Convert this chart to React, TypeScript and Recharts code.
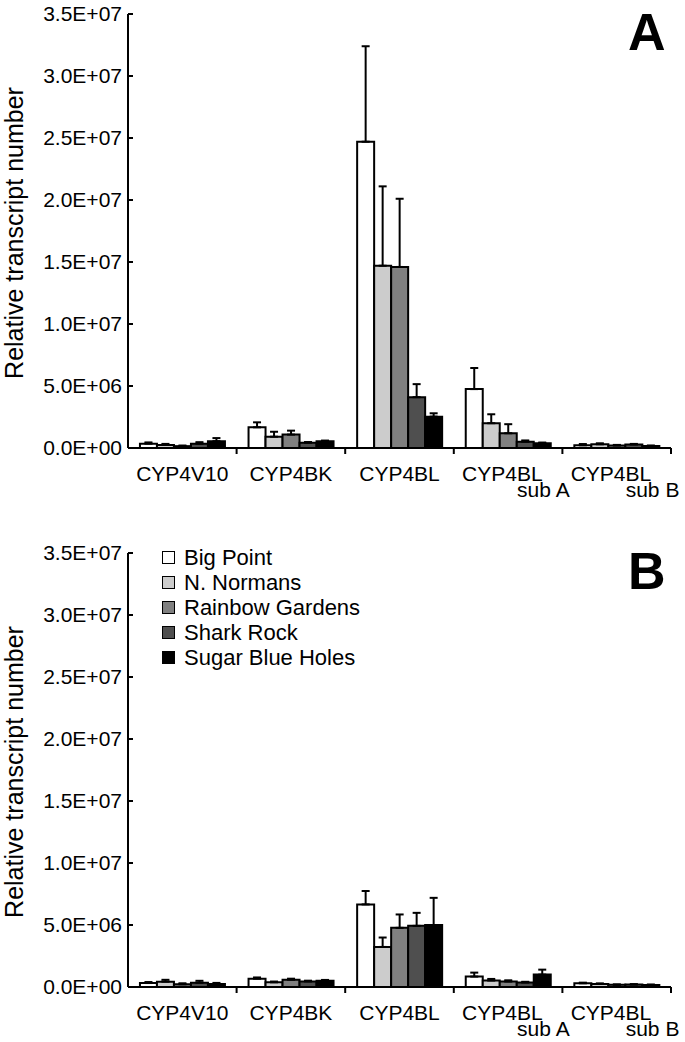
import React from 'react';
import { BarChart, Bar, XAxis, YAxis, ErrorBar, Legend, Customized } from 'recharts';

// genes on the x axis (main label + subscript line)
const GENES = ['CYP4V10', 'CYP4BK', 'CYP4BL', 'CYP4BL sub A', 'CYP4BL sub B'];
const GENE_NAMES = ['CYP4V10', 'CYP4BK', 'CYP4BL', 'CYP4BL', 'CYP4BL'];
const GENE_SUBS = ['', '', '', 'sub A', 'sub B'];

const SITES = ['Big Point', 'N. Normans', 'Rainbow Gardens', 'Shark Rock', 'Sugar Blue Holes'];
const SITE_KEYS = ['bp', 'nn', 'rg', 'sr', 'sbh'];
const SITE_COLORS = ['#ffffff', '#cccccc', '#808080', '#4f4f4f', '#000000'];

const Y_TICKS = [0, 5e6, 1e7, 1.5e7, 2e7, 2.5e7, 3e7, 3.5e7];

// panel A, millions of transcripts, one array per site across GENES
const A_BP = [0.35, 1.67, 24.7, 4.75, 0.22];
const A_NN = [0.25, 0.91, 14.7, 2.0, 0.3];
const A_RG = [0.15, 1.08, 14.6, 1.19, 0.2];
const A_SR = [0.35, 0.43, 4.1, 0.51, 0.28];
const A_SBH = [0.55, 0.54, 2.53, 0.38, 0.17];
const A_BP_ERR = [0.1, 0.4, 7.7, 1.7, 0.1];
const A_NN_ERR = [0.08, 0.4, 6.4, 0.72, 0.08];
const A_RG_ERR = [0.05, 0.32, 5.5, 0.73, 0.05];
const A_SR_ERR = [0.12, 0.05, 1.05, 0.1, 0.05];
const A_SBH_ERR = [0.25, 0.06, 0.27, 0.06, 0.03];

// panel B
const B_BP = [0.32, 0.67, 6.66, 0.84, 0.3];
const B_NN = [0.43, 0.38, 3.23, 0.52, 0.25];
const B_RG = [0.22, 0.59, 4.77, 0.44, 0.18];
const B_SR = [0.35, 0.45, 4.93, 0.36, 0.2];
const B_SBH = [0.25, 0.5, 4.99, 1.0, 0.17];
const B_BP_ERR = [0.08, 0.1, 1.08, 0.32, 0.05];
const B_NN_ERR = [0.15, 0.06, 0.76, 0.13, 0.04];
const B_RG_ERR = [0.08, 0.08, 1.08, 0.1, 0.03];
const B_SR_ERR = [0.15, 0.06, 1.05, 0.06, 0.03];
const B_SBH_ERR = [0.08, 0.07, 2.2, 0.4, 0.03];

const FONT = '"Liberation Sans", Arial, sans-serif';
const W = 685;
const PLOT_LEFT = 128;
const PLOT_RIGHT = 14;
const ZERO_Y = 448;
const STEP = (W - PLOT_LEFT - PLOT_RIGHT) / GENES.length;

function buildRows(values: number[][], errors: number[][]) {
  return GENES.map((gene, gi) => {
    const row: any = { gene };
    SITE_KEYS.forEach((k, si) => {
      row[k] = values[si][gi] * 1e6;
      row[k + 'Err'] = [0, errors[si][gi] * 1e6]; // upper whisker only
    });
    return row;
  });
}

const dataA = buildRows([A_BP, A_NN, A_RG, A_SR, A_SBH], [A_BP_ERR, A_NN_ERR, A_RG_ERR, A_SR_ERR, A_SBH_ERR]);
const dataB = buildRows([B_BP, B_NN, B_RG, B_SR, B_SBH], [B_BP_ERR, B_NN_ERR, B_RG_ERR, B_SR_ERR, B_SBH_ERR]);

const sci = (v: number) => {
  if (v === 0) return '0.0E+00';
  const e = Math.floor(Math.log10(v));
  const m = v / Math.pow(10, e);
  return `${m.toFixed(1)}E+${String(e).padStart(2, '0')}`;
};

const ValueTick = (props: any) => {
  const { x, y, payload } = props;
  return (
    <g>
      <line x1={x} x2={x + 5} y1={y} y2={y} stroke="#000" strokeWidth={2} />
      <text x={x - 6} y={y} dy="0.355em" textAnchor="end" fontSize={21} fontFamily={FONT} fill="#000">
        {sci(payload.value)}
      </text>
    </g>
  );
};

const GeneTick = (props: any) => {
  const { x, y, payload } = props;
  const i = GENES.indexOf(payload.value);
  const sub = GENE_SUBS[i];
  return (
    <g>
      <line x1={x + STEP / 2} x2={x + STEP / 2} y1={y} y2={y + 6} stroke="#000" strokeWidth={2} />
      {sub ? (
        <>
          <text x={x - 46} y={y + 33} fontSize={21} fontFamily={FONT} fill="#000">{GENE_NAMES[i]}</text>
          <text x={x + 9} y={y + 49} fontSize={21} fontFamily={FONT} fill="#000">{sub}</text>
        </>
      ) : (
        <text x={x} y={y + 33} textAnchor="middle" fontSize={21} fontFamily={FONT} fill="#000">{GENE_NAMES[i]}</text>
      )}
    </g>
  );
};

const YTitle = (props: any) => {
  const vb = props.viewBox || { y: 14, height: 434 };
  const cy = vb.y + vb.height / 2 + 2;
  return (
    <text transform={`translate(23, ${cy}) rotate(-90)`} textAnchor="middle" fontSize={25} fontFamily={FONT} fill="#000">
      Relative transcript number
    </text>
  );
};

const SiteLegend = () => (
  <div style={{ fontFamily: FONT, fontSize: 22, color: '#000' }}>
    {SITES.map((s, i) => (
      <div key={s} style={{ display: 'flex', alignItems: 'center', height: 25 }}>
        <span style={{ display: 'inline-block', width: 11, height: 11, border: '1.5px solid #000', background: SITE_COLORS[i], marginRight: 9 }} />
        <span>{s}</span>
      </div>
    ))}
  </div>
);

function Panel({ letter, data, height, legend }: { letter: string; data: any[]; height: number; legend?: boolean }) {
  return (
    <BarChart
      width={W}
      height={height}
      data={data}
      margin={{ top: 14, right: PLOT_RIGHT, left: 0, bottom: 0 }}
      barCategoryGap="11%"
      barGap={0}
    >
      <XAxis
        dataKey="gene"
        height={height - ZERO_Y}
        interval={0}
        tickSize={0}
        tickMargin={0}
        tickLine={false}
        axisLine={{ stroke: '#000', strokeWidth: 2 }}
        tick={<GeneTick />}
      />
      <YAxis
        width={PLOT_LEFT}
        domain={[0, 3.5e7]}
        ticks={Y_TICKS}
        interval={0}
        tickSize={0}
        tickMargin={0}
        tickLine={false}
        axisLine={{ stroke: '#000', strokeWidth: 2 }}
        tick={<ValueTick />}
        label={{ content: YTitle }}
      />
      {legend && (
        <Legend
          layout="vertical"
          align="center"
          verticalAlign="middle"
          content={<SiteLegend />}
          wrapperStyle={{ left: 162, top: 6, width: 280 }}
        />
      )}
      {SITE_KEYS.map((k, i) => (
        <Bar key={k} dataKey={k} name={SITES[i]} fill={SITE_COLORS[i]} stroke="#000" strokeWidth={2} isAnimationActive={false}>
          <ErrorBar dataKey={k + 'Err'} width={4} stroke="#000" strokeWidth={2} direction="y" />
        </Bar>
      ))}
      <Customized
        component={() => (
          <text x={628} y={50} fontSize={52} fontWeight="bold" fontFamily={FONT} fill="#000">
            {letter}
          </text>
        )}
      />
    </BarChart>
  );
}

export default function App() {
  return (
    <div style={{ position: 'absolute', left: 0, top: 0, width: W, height: 1042, background: '#fff', fontFamily: FONT }}>
      <Panel letter="A" data={dataA} height={539} />
      <Panel letter="B" data={dataB} height={503} legend />
    </div>
  );
}
